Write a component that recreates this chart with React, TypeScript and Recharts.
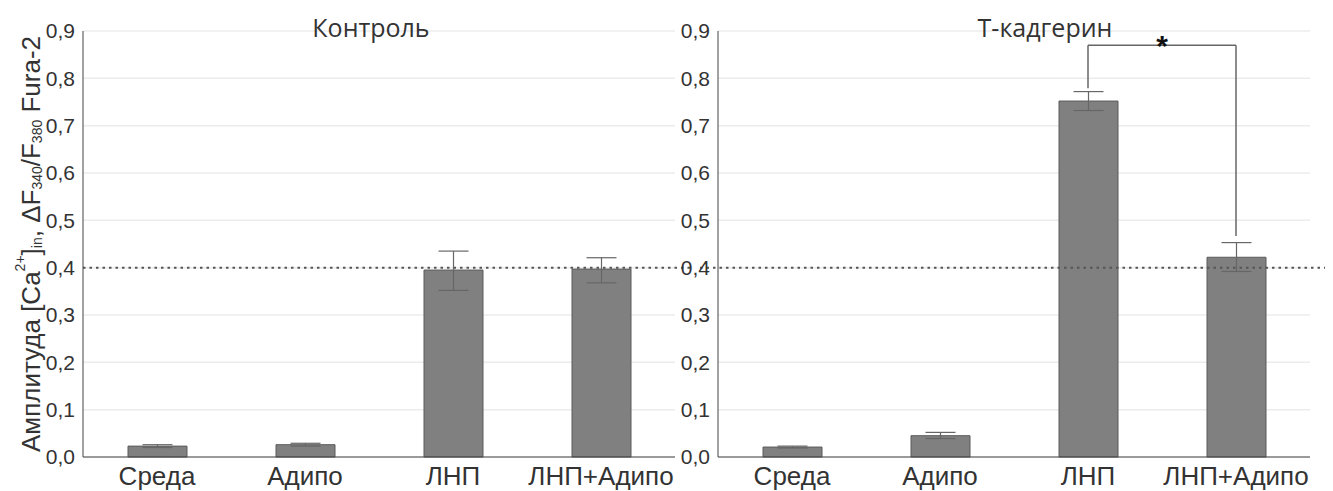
import React from 'react';
import { BarChart, Bar, XAxis, YAxis, CartesianGrid, ReferenceLine, ErrorBar, Label } from 'recharts';

const categories = ['Среда', 'Адипо', 'ЛНП', 'ЛНП+Адипо'];

const controlValues = [0.023, 0.026, 0.395, 0.397];
const controlErrLow = [0.003, 0.003, 0.043, 0.029];
const controlErrHigh = [0.003, 0.003, 0.04, 0.024];

const cadherinValues = [0.021, 0.045, 0.752, 0.422];
const cadherinErrLow = [0.002, 0.006, 0.02, 0.03];
const cadherinErrHigh = [0.002, 0.007, 0.02, 0.031];

const yTicks = [0, 0.1, 0.2, 0.3, 0.4, 0.5, 0.6, 0.7, 0.8, 0.9];
const threshold = 0.4;

// significance bracket between ЛНП and ЛНП+Адипо (T-cadherin panel)
const bracketTop = 0.87;
const bracketLeftEnd = 0.779;
const bracketRightEnd = 0.467;

const makeRows = (vals: number[], lo: number[], hi: number[]) =>
  categories.map((name, i) => ({ name, value: vals[i], err: [lo[i], hi[i]] }));

const controlData = makeRows(controlValues, controlErrLow, controlErrHigh);
const cadherinData = makeRows(cadherinValues, cadherinErrLow, cadherinErrHigh);

const fmt = (v: number) => v.toFixed(1).replace('.', ',');
const FONT = '"Liberation Sans", Arial, sans-serif';
const NARROW = '"Liberation Sans Narrow", "Arial Narrow", "Liberation Sans", sans-serif';

const dottedShape = (extLeft: number, extRight: number) => (p: any) => (
  <line
    x1={p.x1 - extLeft}
    y1={p.y1}
    x2={p.x2 + extRight}
    y2={p.y2}
    stroke="#555"
    strokeWidth={2}
    strokeDasharray="2.5 4"
  />
);

const YLabel = (props: any) => {
  const vb = props.viewBox;
  const cx = vb.x + 31;
  const cy = vb.y + vb.height / 2;
  return (
    <text
      x={cx}
      y={cy}
      transform={`rotate(-90, ${cx}, ${cy})`}
      textAnchor="middle"
      dominantBaseline="central"
      fontSize={26}
      fill="#333"
      fontFamily={FONT}
    >
      Амплитуда [Ca
      <tspan dy={-11} fontSize={14}>2+</tspan>
      <tspan dy={11}>]</tspan>
      <tspan dy={6} fontSize={14}>in</tspan>
      <tspan dy={-6}>, ΔF</tspan>
      <tspan dy={6} fontSize={14}>340</tspan>
      <tspan dy={-6}>/F</tspan>
      <tspan dy={6} fontSize={14}>380</tspan>
      <tspan dy={-6}> Fura-2</tspan>
    </text>
  );
};

interface PanelProps {
  data: any[];
  width: number;
  yAxisWidth: number;
  marginRight: number;
  dotExt: [number, number];
  withLabel?: boolean;
  withBracket?: boolean;
}

const Panel = ({ data, width, yAxisWidth, marginRight, dotExt, withLabel, withBracket }: PanelProps) => (
  <BarChart
    width={width}
    height={491}
    data={data}
    margin={{ top: 31, right: marginRight, left: 0, bottom: 0 }}
    barSize={59}
  >
    <CartesianGrid vertical={false} stroke="#ececec" strokeWidth={1.5} />
    <XAxis
      dataKey="name"
      height={34}
      tickSize={0}
      tickMargin={10}
      axisLine={{ stroke: '#444' }}
      tickLine={false}
      tick={{ fontSize: 26, fill: '#333', fontFamily: FONT }}
    />
    <YAxis
      width={yAxisWidth}
      domain={[0, 0.9]}
      ticks={yTicks}
      tickFormatter={fmt}
      tickSize={0}
      tickMargin={8}
      axisLine={{ stroke: '#444' }}
      tickLine={false}
      tick={{ fontSize: 21, fill: '#333', fontFamily: NARROW }}
    >
      {withLabel && <Label content={YLabel} />}
    </YAxis>
    <ReferenceLine y={threshold} shape={dottedShape(dotExt[0], dotExt[1])} ifOverflow="visible" />
    <Bar dataKey="value" fill="#808080" stroke="#5a5a5a" strokeWidth={1} isAnimationActive={false}>
      <ErrorBar dataKey="err" width={15} stroke="#666" strokeWidth={1.2} />
    </Bar>
    {withBracket && (
      <ReferenceLine
        segment={[
          { x: 'ЛНП', y: bracketLeftEnd },
          { x: 'ЛНП', y: bracketTop },
        ]}
        stroke="#666"
        strokeWidth={1.5}
        ifOverflow="visible"
      />
    )}
    {withBracket && (
      <ReferenceLine
        segment={[
          { x: 'ЛНП', y: bracketTop },
          { x: 'ЛНП+Адипо', y: bracketTop },
        ]}
        stroke="#666"
        strokeWidth={1.5}
        ifOverflow="visible"
        label={{ value: '*', position: 'top', offset: -11, fontSize: 30, fontWeight: 'bold', fill: '#111', fontFamily: FONT }}
      />
    )}
    {withBracket && (
      <ReferenceLine
        segment={[
          { x: 'ЛНП+Адипо', y: bracketTop },
          { x: 'ЛНП+Адипо', y: bracketRightEnd },
        ]}
        stroke="#666"
        strokeWidth={1.5}
        ifOverflow="visible"
      />
    )}
  </BarChart>
);

const titleStyle: React.CSSProperties = {
  position: 'absolute',
  top: 12,
  width: 300,
  textAlign: 'center',
  fontFamily: '"Open Sans", sans-serif',
  fontSize: 25,
  color: '#333',
  lineHeight: '30px',
};

export default function App() {
  return (
    <div style={{ position: 'absolute', left: 0, top: 0, width: 1333, height: 491, background: '#fff' }}>
      <div style={{ position: 'absolute', left: 0, top: 0 }}>
        <Panel data={controlData} width={700} yAxisWidth={83} marginRight={25} dotExt={[0, 15]} withLabel />
      </div>
      <div style={{ position: 'absolute', left: 660, top: 0 }}>
        <Panel data={cadherinData} width={673} yAxisWidth={58} marginRight={23} dotExt={[18, 15]} withBracket />
      </div>
      <div style={{ ...titleStyle, left: 371 - 150 }}>Контроль</div>
      <div style={{ ...titleStyle, left: 1045 - 150 }}>Т-кадгерин</div>
    </div>
  );
}
